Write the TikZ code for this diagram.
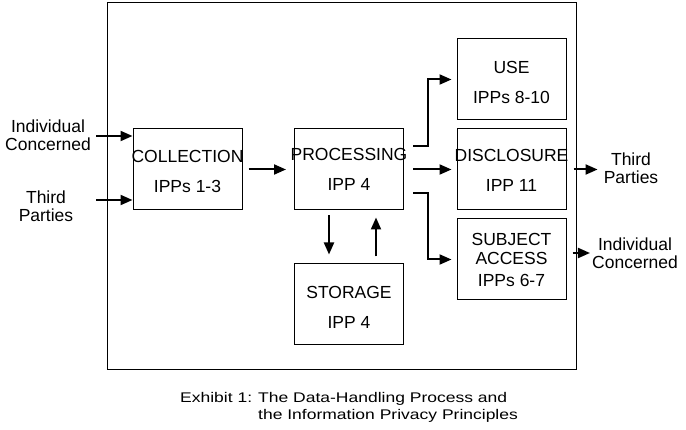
\documentclass[tikz,border=0pt]{standalone}
\usepackage{fontspec}
\setmainfont{Liberation Sans}
\newfontfamily\capfont[FakeStretch=1.25]{Liberation Sans}
\usetikzlibrary{arrows.meta}

\begin{document}
\begin{tikzpicture}[x=1pt, y=-1pt,
    stage/.style={draw, line width=1pt, minimum width=109pt, minimum height=81pt, inner sep=0pt},
    stagetext/.style={align=center, inner sep=0pt, font=\fontsize{17.5}{30}\selectfont},
    party/.style={align=center, inner sep=2pt, font=\fontsize{17.5}{17.5}\selectfont},
    caption/.style={anchor=north west, inner sep=0pt, align=left, font=\capfont\fontsize{14}{16.5}\selectfont},
    flow/.style={line width=2pt, -{Triangle[length=12pt,width=10pt]}}]
    \useasboundingbox (0,0) rectangle (686,430);
    \draw[line width=1pt] (107,3) rectangle (576,370);

    \node[stage] (coll) at (187.5,169.5) {};
    \node[stage] (proc) at (349,169.5) {};
    \node[stage] (use) at (511.5,79.5) {};
    \node[stage] (disc) at (511.5,169.5) {};
    \node[stage] (subj) at (511.5,259.5) {};
    \node[stage] (stor) at (349,304.5) {};

    \node[stagetext] (colltext) at (187.5,171.5) {COLLECTION\\IPPs 1-3};
    \node[stagetext] (proctext) at (349,169.5) {PROCESSING\\IPP 4};
    \node[stagetext] (usetext) at (511.5,82) {USE\\IPPs 8-10};
    \node[stagetext] (disctext) at (511.5,170) {DISCLOSURE\\IPP 11};
    \node[stagetext, font=\fontsize{17.5}{19}\selectfont] (subjtext) at (511.5,259.5) {SUBJECT\\ACCESS\\[3pt]IPPs 6-7};
    \node[stagetext] (stortext) at (349,307.5) {STORAGE\\IPP 4};

    \node[party] (indl) at (48,135) {Individual\\Concerned};
    \node[party] (thdl) at (46,206) {Third\\Parties};
    \node[party] (thdr) at (631,168) {Third\\Parties};
    \node[party] (indr) at (635,253) {Individual\\Concerned};
    \coordinate (inl) at (96,136);
    \coordinate (thl) at (96,200);

    \draw[flow] (inl) -- (inl -| coll.west);
    \draw[flow] (thl) -- (thl -| coll.west);
    \draw[flow, shorten <=6pt, shorten >=8pt] (coll.east) -- (proc.west);
    \draw[flow, shorten <=9pt, shorten >=5pt] (proc.east) -- (disc.west);
    \draw[flow, shorten >=5pt] ([xshift=9pt,yshift=23.5pt]proc.east) -| ([xshift=-29pt]use.west) -- (use.west);
    \draw[flow, shorten >=5pt] ([xshift=9pt,yshift=-23.5pt]proc.east) -| ([xshift=-29pt]subj.west) -- (subj.west);
    \draw[flow, shorten <=5pt, shorten >=9pt] ([xshift=-20pt]proc.south) -- ([xshift=-20pt]stor.north);
    \draw[flow, shorten <=7pt, shorten >=7pt] ([xshift=27pt]stor.north) -- ([xshift=27pt]proc.south);
    \draw[flow, shorten <=7pt, shorten >=4pt] (disc.east) -- (disc.east -| thdr.west);
    \draw[flow, shorten <=6pt] (subj.east |- indr.west) -- (indr.west);

    \node[caption] (exh) at (180,392.5) {Exhibit 1:};
    \node[caption] (capt) at (258,392.5) {The Data-Handling Process and\\the Information Privacy Principles};
\end{tikzpicture}
\end{document}
